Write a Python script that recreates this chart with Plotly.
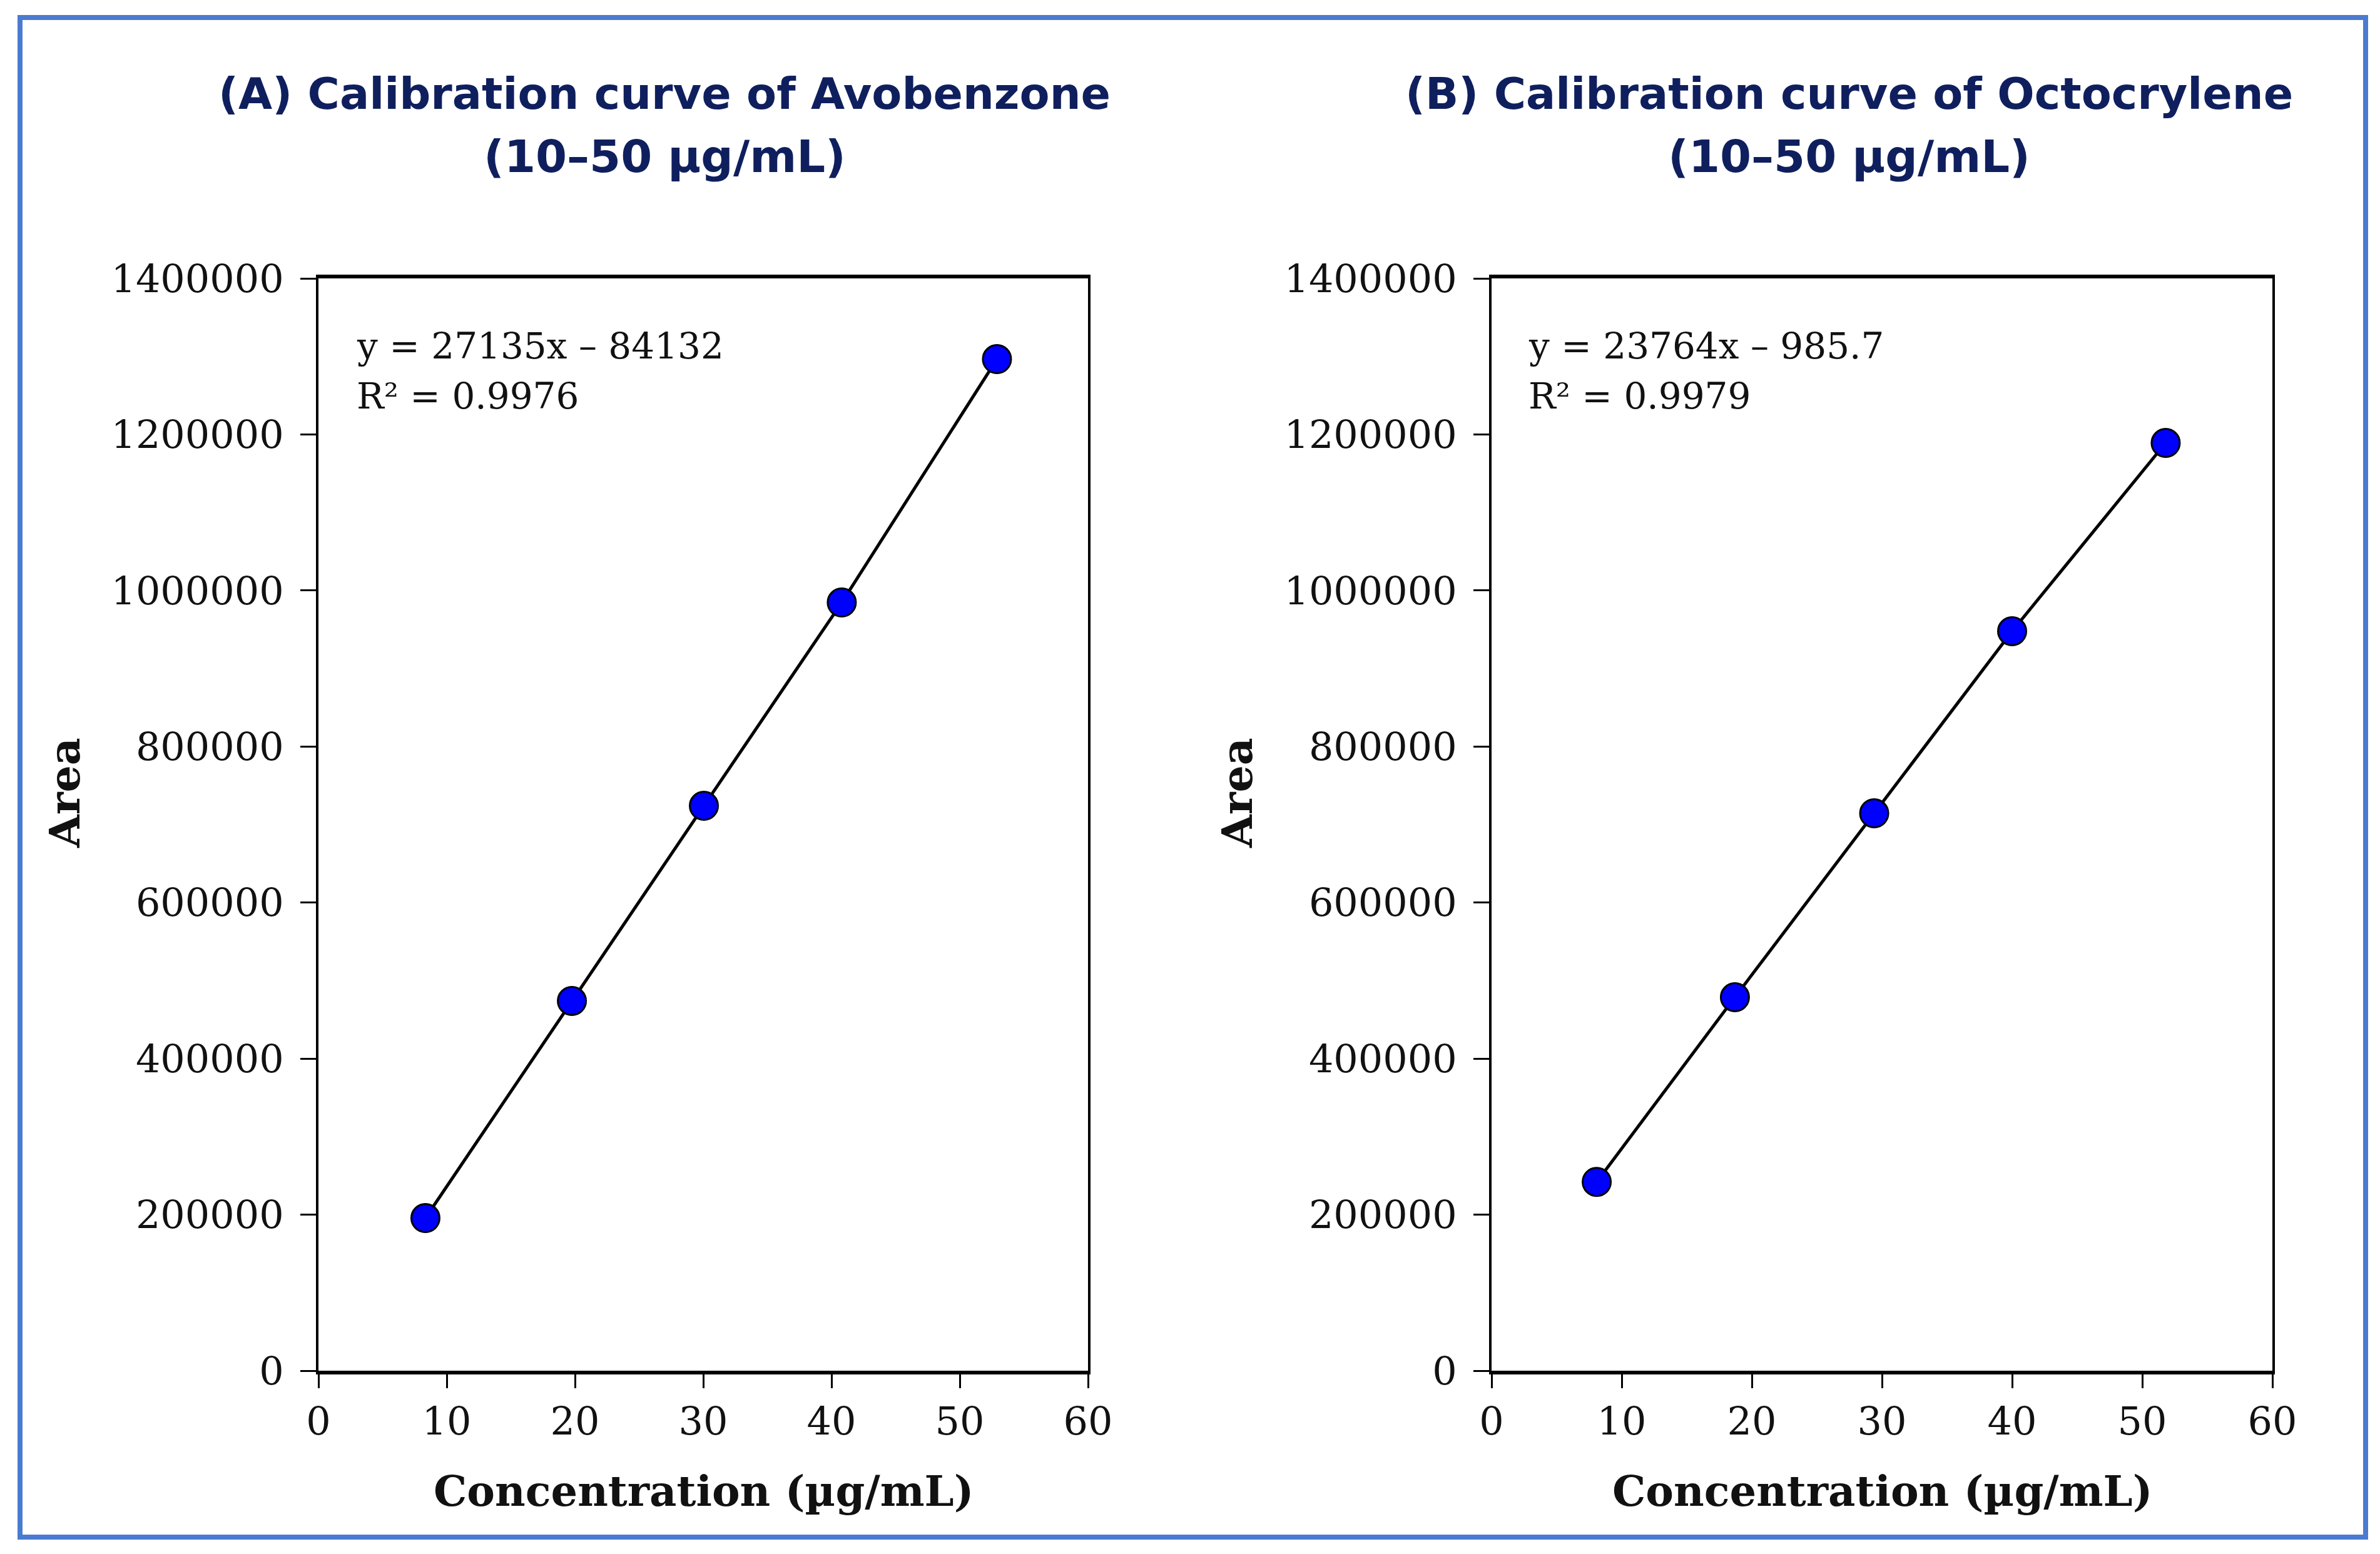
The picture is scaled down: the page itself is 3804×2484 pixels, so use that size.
import plotly.graph_objects as go

W, H = 3804, 2484

# ---- data ----
avo_conc = [8.34, 19.76, 30.05, 40.8, 52.9]
avo_area = [195650, 473900, 724000, 984600, 1296500]
oct_conc = [8.08, 18.7, 29.4, 40.0, 51.8]
oct_area = [242000, 478700, 714400, 947800, 1189100]

x_ticks = [0, 10, 20, 30, 40, 50, 60]
y_ticks = [0, 200000, 400000, 600000, 800000, 1000000, 1200000, 1400000]

title_line1 = ["(A) Calibration curve of Avobenzone",
               "(B) Calibration curve of Octocrylene"]
title_line2 = ["(10\u201350 \u00b5g/mL)", "(10\u201350 \u00b5g/mL)"]
equations = [["y = 27135x \u2013 84132", "R\u00b2 = 0.9976"],
             ["y = 23764x \u2013 985.7", "R\u00b2 = 0.9979"]]
x_title = "Concentration (\u00b5g/mL)"
y_title = "Area"


def px(x):
    return x / W


def py(y):
    return 1 - y / H


SERIF = "DejaVu Serif"
TITLE_FONT = "DejaVu Sans"
fig = go.Figure()

for i, (xs, ys) in enumerate([(avo_conc, avo_area), (oct_conc, oct_area)]):
    sfx = "" if i == 0 else "2"
    fig.add_trace(go.Scatter(
        x=xs, y=ys, mode="lines+markers",
        line=dict(color="black", width=5),
        marker=dict(size=45, color="#0000ff", line=dict(color="black", width=3)),
        xaxis="x" + sfx, yaxis="y" + sfx, showlegend=False,
    ))

xdoms = [[px(509), px(1739)], [px(2384), px(3632)]]
ydom = [py(2191), py(445)]

axis_common = dict(showgrid=False, zeroline=False, showline=True, mirror=True,
                   linecolor="black", ticks="outside", tickcolor="black",
                   tickwidth=3, automargin=False,
                   tickfont=dict(family=SERIF, size=62, color="#111"))

for i in range(2):
    sfx = "" if i == 0 else "2"
    fig.update_layout(**{
        "xaxis" + sfx: dict(domain=xdoms[i], range=[0, 60], tickvals=x_ticks,
                            ticktext=[str(v) for v in x_ticks], ticklen=22,
                            linewidth=6, anchor="y" + sfx, **axis_common),
        "yaxis" + sfx: dict(domain=ydom, range=[0, 1400000], tickvals=y_ticks,
                            ticktext=[str(v) for v in y_ticks], ticklen=25,
                            ticklabelstandoff=14,
                            linewidth=4, anchor="x" + sfx, **axis_common),
    })

annotations = []
title_x = [px(1062), px(2955)]
eq_x = [px(568), px(2441)]
xt_x = [px(1124), px(3008)]
yt_x = [px(103), px(1977)]
for i in range(2):
    annotations.append(dict(
        text="<b>" + title_line1[i] + "</b>",
        x=title_x[i], y=py(150), xref="paper", yref="paper",
        xanchor="center", yanchor="middle", showarrow=False,
        font=dict(family=TITLE_FONT, size=70, color="#0f1f5e")))
    annotations.append(dict(
        text="<b>" + title_line2[i] + "</b>",
        x=title_x[i], y=py(250), xref="paper", yref="paper",
        xanchor="center", yanchor="middle", showarrow=False,
        font=dict(family=TITLE_FONT, size=72, color="#0f1f5e")))
    annotations.append(dict(
        text=equations[i][0], x=eq_x[i], y=py(553), xref="paper", yref="paper",
        xanchor="left", yanchor="middle", showarrow=False,
        font=dict(family=SERIF, size=58, color="#111")))
    annotations.append(dict(
        text=equations[i][1], x=eq_x[i], y=py(633), xref="paper", yref="paper",
        xanchor="left", yanchor="middle", showarrow=False,
        font=dict(family=SERIF, size=58, color="#111")))
    annotations.append(dict(
        text="<b>" + x_title + "</b>", x=xt_x[i], y=py(2383), xref="paper", yref="paper",
        xanchor="center", yanchor="middle", showarrow=False,
        font=dict(family=SERIF, size=67, color="#111")))
    annotations.append(dict(
        text="<b>" + y_title + "</b>", x=yt_x[i], y=py(1268), xref="paper", yref="paper",
        xanchor="center", yanchor="middle", showarrow=False, textangle=-90,
        font=dict(family=SERIF, size=68, color="#111")))

fig.update_layout(
    width=W, height=H,
    margin=dict(l=0, r=0, t=0, b=0, pad=0, autoexpand=False),
    paper_bgcolor="white", plot_bgcolor="white",
    annotations=annotations,
    shapes=[dict(type="rect", xref="paper", yref="paper",
                 x0=px(32), x1=px(3781), y0=py(2457), y1=py(28),
                 line=dict(color="#4a7bd0", width=8), fillcolor="rgba(0,0,0,0)")],
)

fig.write_html("out.html")
